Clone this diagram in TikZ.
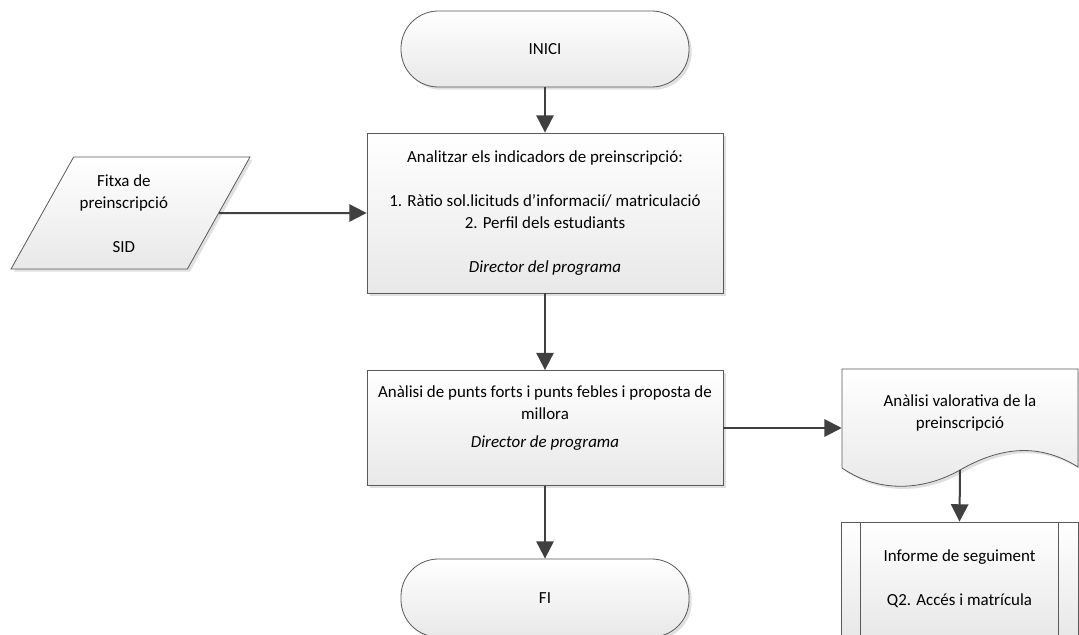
\documentclass[tikz,border=0pt]{standalone}
\usepackage{fontspec}
\setmainfont{Carlito}
\usetikzlibrary{arrows.meta,shapes.geometric,shadows}
\definecolor{linec}{HTML}{404040}
\definecolor{edgec}{HTML}{595959}
\begin{document}
\begin{tikzpicture}[x=0.75pt,y=-0.75pt,
  font=\fontsize{12.7pt}{16.5pt}\selectfont,
  base/.style={draw=edgec, line width=0.6pt, top color=white, bottom color=black!9,
    drop shadow={shadow xshift=2pt, shadow yshift=-2pt, fill=black, opacity=0.12}},
  term/.style={base, rectangle, rounded corners=28pt, minimum width=216pt, minimum height=57pt, align=center},
  procbox/.style={base, rectangle, minimum width=267pt, align=center, inner sep=0pt},
  datanode/.style={base, trapezium, trapezium left angle=66, trapezium right angle=114,
    trapezium stretches=true, minimum width=179.25pt, minimum height=84pt, align=center, inner sep=0pt},
  predbox/.style={base, rectangle, minimum width=177.75pt, minimum height=85.5pt, align=center},
  docarea/.style={rectangle, minimum width=177pt, minimum height=88.5pt, inner sep=0pt},
  txt/.style={align=center, inner sep=0pt},
  flow/.style={draw=linec, line width=1.5pt, -{Triangle[length=13pt,width=13pt]}}]
\useasboundingbox (0,0) rectangle (1079,635);

\node[term] (start) at (545,49) {INICI};
\node[procbox, minimum height=120pt] (ana) at (545,213)
  {Analitzar els indicadors de preinscripció:\\[16.5pt]1. Ràtio sol.licituds d’informacií/ matriculació\\2. Perfil dels estudiants\\[16.5pt]\textit{Director del programa}};
\node[datanode, label={[txt, xshift=-5pt, yshift=-0.5pt]center:{Fitxa de\\preinscripció\\[16.5pt]SID}}] (fitxa) at (130.5,213) {\phantom{X}};
\node[procbox, minimum height=86.25pt,
  label={[txt, yshift=7.5pt]center:{Anàlisi de punts forts i punts febles i proposta de\\millora\\[4pt]\textit{Director de programa}}}] (millora) at (545,428) {};
\node[term, minimum height=58.5pt] (fin) at (545,598) {FI};

% document shape
\node[docarea] (doc) at (960,428) {};
\path[base] (842,369) -- (1078,369) -- (1078,467)
  .. controls (1035,440) and (995,450) .. (960,470)
  .. controls (925,490) and (880,494) .. (842,468) -- cycle;
\node[txt] (doctext) at (960,413) {Anàlisi valorativa de la\\preinscripció};
\coordinate (docout) at (960,470);

% predefined process
\node[predbox] (pred) at (959.5,579) {Informe de seguiment\\[16.5pt]Q2. Accés i matrícula};
\draw[edgec, line width=0.6pt] ([xshift=15pt]pred.north west) -- ([xshift=15pt]pred.south west);
\draw[edgec, line width=0.6pt] ([xshift=-15pt]pred.north east) -- ([xshift=-15pt]pred.south east);

% connectors
\draw[flow] (start.south) -- (ana.north);
\draw[flow] (fitxa.east) -- (ana.west);
\draw[flow] (ana.south) -- (millora.north);
\draw[flow] (millora.south) -- (fin.north);
\draw[flow] (millora.east) -- (doc.west);
\draw[flow] (docout) -- (pred.north);
\end{tikzpicture}
\end{document}
